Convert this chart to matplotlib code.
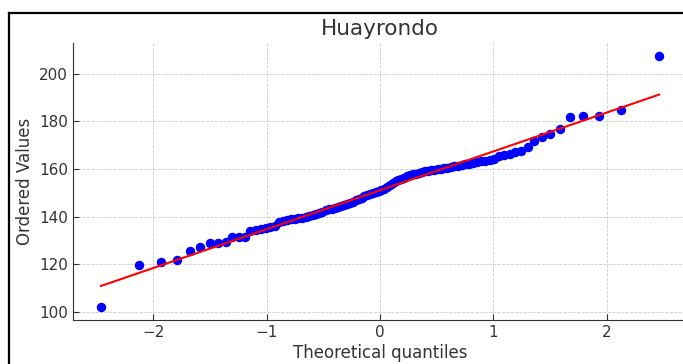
import numpy as np
import matplotlib
matplotlib.use("Agg")
import matplotlib.pyplot as plt
from matplotlib.lines import Line2D
from statistics import NormalDist

title = "Huayrondo"
x_label = "Theoretical quantiles"
y_label = "Ordered Values"

# sorted sample (n = 100)
ordered_values = [
    101.8, 119.8, 121.1, 121.9, 125.7, 127.4, 128.7, 128.7, 129.1, 131.2,
    131.6, 131.6, 133.8, 134.3, 134.8, 135.2, 135.6, 136.2, 137.8, 138.2,
    138.5, 138.8, 139.0, 139.3, 139.6, 139.9, 140.2, 140.6, 140.9, 141.3,
    141.8, 142.6, 143.0, 143.2, 143.5, 143.9, 144.3, 144.9, 145.3, 145.8,
    146.3, 146.8, 147.3, 148.0, 148.5, 149.0, 149.6, 150.1, 150.5, 150.9,
    151.3, 151.8, 152.4, 153.3, 154.2, 155.0, 155.4, 155.9, 156.4, 156.9,
    157.4, 157.8, 158.1, 158.4, 158.7, 159.0, 159.2, 159.4, 159.6, 159.9,
    160.1, 160.4, 160.5, 160.8, 161.1, 161.4, 161.7, 162.0, 162.3, 162.6,
    162.9, 163.2, 163.5, 163.8, 164.4, 165.4, 165.8, 166.2, 167.0, 167.6,
    169.1, 171.7, 173.5, 174.6, 176.7, 181.9, 182.2, 182.3, 184.9, 207.7,
]

y = np.array(ordered_values)
n = len(y)

# Filliben order statistic medians -> normal quantiles
m = (np.arange(1, n + 1) - 0.3175) / (n + 0.365)
m[-1] = 0.5 ** (1.0 / n)
m[0] = 1 - m[-1]
nd = NormalDist()
q = np.array([nd.inv_cdf(p) for p in m])

slope, intercept = np.polyfit(q, y, 1)

text_color = "#333333"
fig = plt.figure(figsize=(6.83, 3.64), dpi=100)
ax = fig.add_axes([73 / 683, 1 - 320 / 364, 614 / 683, 277 / 364])

ax.plot(q, y, "o", color="blue", markersize=5.8)
ax.plot(q, slope * q + intercept, "-", color="red", linewidth=1.5)

ax.set_title(title, fontsize=15.5, color=text_color, pad=6)
ax.set_xlabel(x_label, fontsize=12, color=text_color, labelpad=3)
ax.set_ylabel(y_label, fontsize=12, color=text_color, labelpad=4)

ax.set_xticks([-2, -1, 0, 1, 2])
ax.set_yticks([100, 120, 140, 160, 180, 200])
ax.tick_params(direction="in", length=4, labelsize=11, colors=text_color)
ax.grid(True, linestyle="--", linewidth=0.6, color="#cccccc")
ax.set_axisbelow(True)
for side in ("top", "right"):
    ax.spines[side].set_visible(False)
for side in ("left", "bottom"):
    ax.spines[side].set_color(text_color)

# dark frame along the top and left edges
fig.add_artist(Line2D([9 / 683, 9 / 683], [0, 1 - 12.5 / 364],
                      transform=fig.transFigure, color="black", linewidth=1.6))
fig.add_artist(Line2D([9 / 683, 1], [1 - 12.5 / 364, 1 - 12.5 / 364],
                      transform=fig.transFigure, color="black", linewidth=1.6))

fig.savefig("out.png", dpi=100)
